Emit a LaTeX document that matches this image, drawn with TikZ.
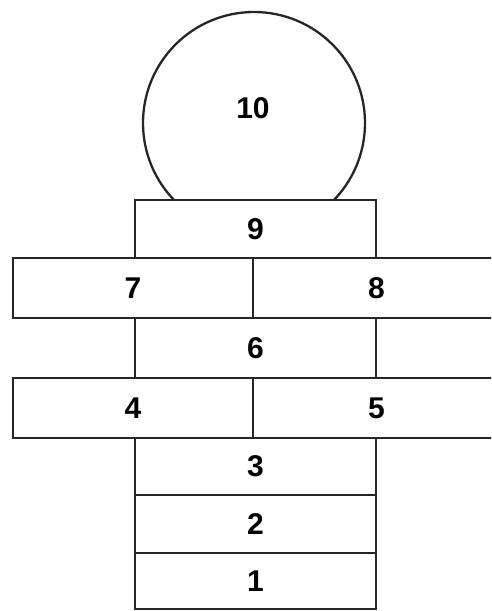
\documentclass[tikz,border=0pt]{standalone}
\usepackage{fontspec}
\setmainfont{Liberation Sans}
\begin{document}
\begin{tikzpicture}[x=1pt, y=-1pt,
    cell/.style={draw=black!85, line width=2.3pt, fill=white, rectangle, inner sep=0pt,
                 minimum width=#1, font=\fontsize{30}{32}\selectfont\bfseries},
    dome/.style={draw=black!85, line width=2.3pt, circle, minimum size=222pt, inner sep=0pt},
    num/.style={font=\fontsize{30}{32}\selectfont\bfseries}]
  \clip (0,0) rectangle (491,611);
  % the half circle at the top
  \node[dome] (ten) at (254,123) {};
  \node[num] (tenlbl) at (253,108) {10};
  % centre column
  \node[cell=241pt, minimum height=58pt] (nine) at (255.5,229) {9};
  \node[cell=241pt, minimum height=60pt] (six) at (255.5,348) {6};
  \node[cell=241pt, minimum height=57pt] (three) at (255.5,466.5) {3};
  \node[cell=241pt, minimum height=58pt] (two) at (255.5,524) {2};
  \node[cell=241pt, minimum height=56pt] (one) at (255.5,581) {1};
  % side by side squares
  \node[cell=240pt, minimum height=60pt] (seven) at (133,288) {7};
  \node[cell=247pt, minimum height=60pt] (eight) at (376.5,288) {8};
  \node[cell=240pt, minimum height=60pt] (four) at (133,408) {4};
  \node[cell=247pt, minimum height=60pt] (five) at (376.5,408) {5};
\end{tikzpicture}
\end{document}
